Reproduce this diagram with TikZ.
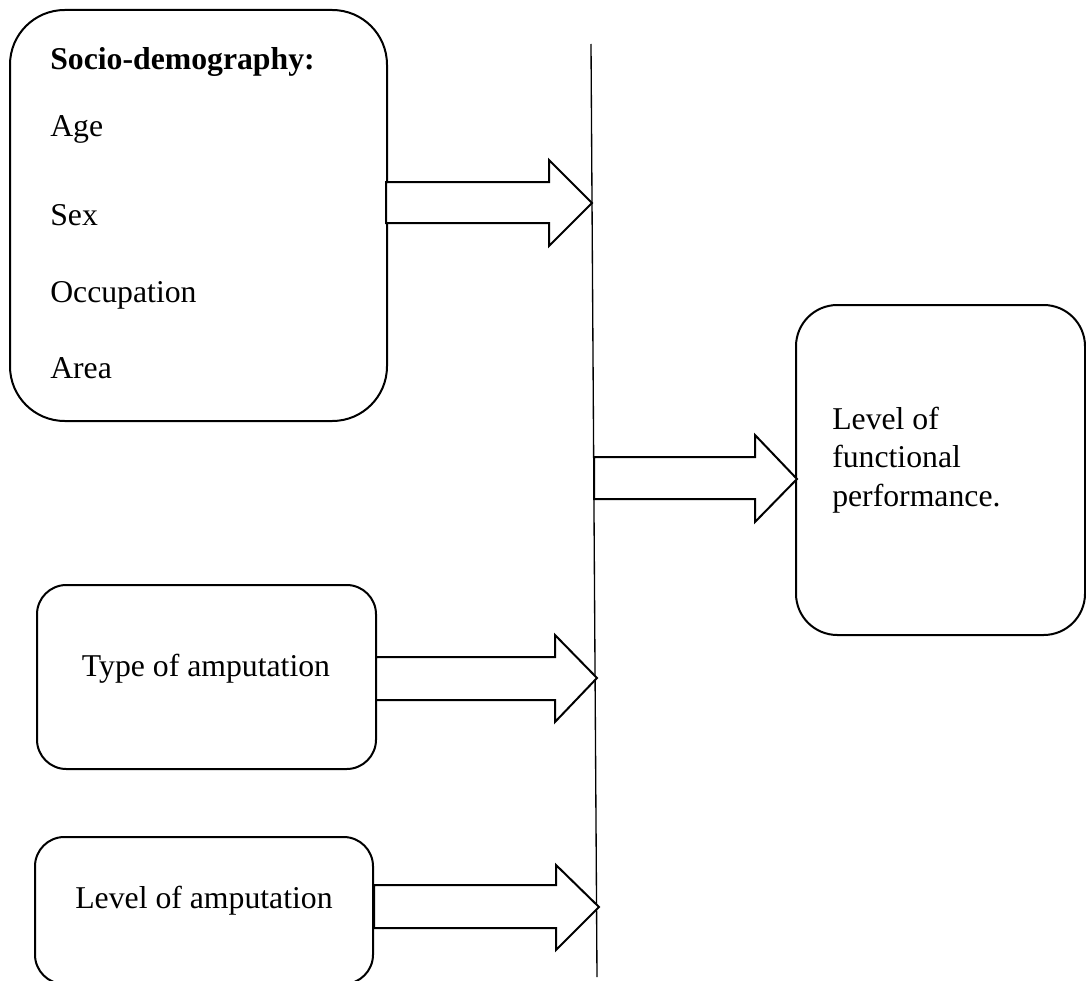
\documentclass[tikz,border=0pt]{standalone}
\usepackage{fontspec}
\setmainfont{Liberation Serif}
\usetikzlibrary{fit}
\begin{document}
\begin{tikzpicture}[x=0.75pt,y=-0.75pt,
  rbox/.style={draw,line width=1.5pt,inner sep=0pt},
  txt/.style={inner sep=0pt,anchor=base west,font=\fontsize{23.8pt}{28pt}\selectfont},
  ctxt/.style={inner sep=0pt,anchor=base,font=\fontsize{23.8pt}{28pt}\selectfont},
  barrow/.style={draw,line width=1.5pt,line join=miter,fill=white}]
\path[use as bounding box,clip] (0,0) rectangle (1086,981);
% boxes
\node[rbox,rounded corners=41pt,fit={(10,10)(387,421)}] (soc) {};
\node[rbox,rounded corners=31pt,fit={(796,305)(1085,635)}] (out) {};
\node[rbox,rounded corners=22pt,fit={(37,585)(376,769)}] (type) {};
\node[rbox,rounded corners=22pt,fit={(35,837)(373,984)}] (lvl) {};
% texts
\node[txt,font=\fontsize{23.8pt}{28pt}\selectfont\bfseries] (t0) at (50,70) {Socio-demography:};
\node[txt] (t1) at (50,137) {Age};
\node[txt] (t2) at (50,225) {Sex};
\node[txt] (t3) at (50,302) {Occupation};
\node[txt] (t4) at (50,378) {Area};
\node[txt] (o1) at (832,429) {Level of};
\node[txt] (o2) at (832,467.5) {functional};
\node[txt] (o3) at (832,506) {performance.};
\node[ctxt] (tt) at (206,676) {Type of amputation};
\node[ctxt] (lt) at (204,908) {Level of amputation};
% vertical bar
\coordinate (bartop) at (591,44);
\coordinate (barbot) at (597,977);
\draw[line width=1pt] (bartop) -- (barbot);
% block arrows
\draw[barrow] (386,182) -- (549,182) -- (549,160) -- (592,203) -- (549,246) -- (549,223) -- (386,223) -- cycle;
\draw[barrow] (376,657) -- (555,657) -- (555,635) -- (597,678) -- (555,722) -- (555,700) -- (376,700) -- cycle;
\draw[barrow] (374,885) -- (556,885) -- (556,865) -- (599,907) -- (556,950) -- (556,928) -- (374,928) -- cycle;
\draw[barrow] (594,457) -- (755,457) -- (755,435) -- (797,479) -- (755,522) -- (755,499) -- (594,499) -- cycle;
\end{tikzpicture}
\end{document}
